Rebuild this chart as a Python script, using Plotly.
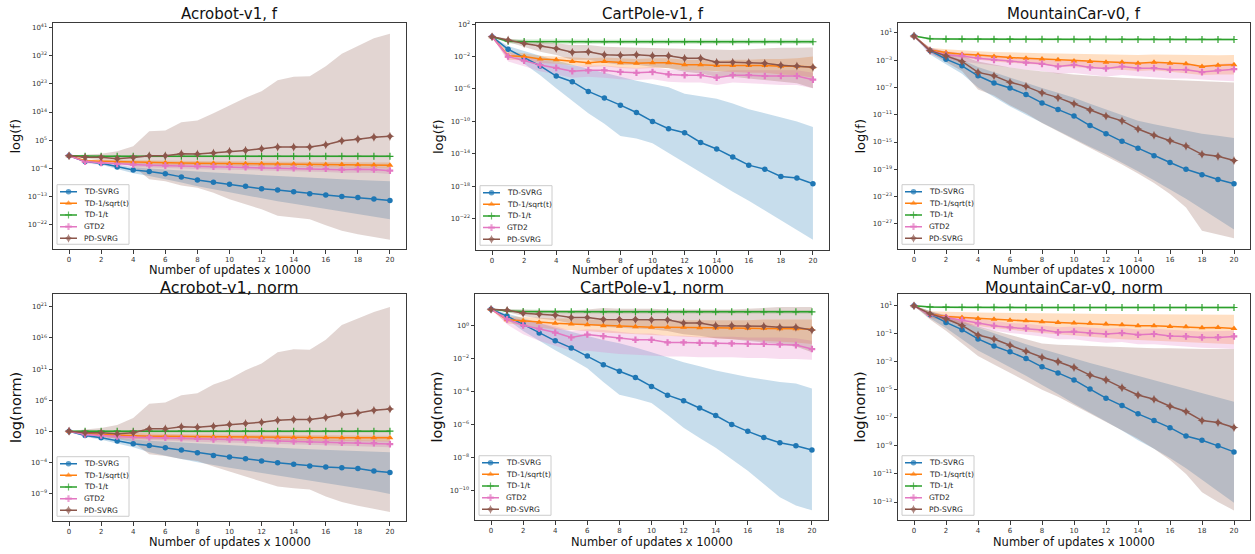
import plotly.graph_objects as go

FIG_W, FIG_H = 1255, 554
FONT = "DejaVu Sans"

# ---------------------------------------------------------------- data
# x axis: number of updates (x 10000)
STEPS = list(range(21))
X_TICKS = [0, 2, 4, 6, 8, 10, 12, 14, 16, 18, 20]

LABELS = ["TD-SVRG", "TD-1/sqrt(t)", "TD-1/t", "GTD2", "PD-SVRG"]

# All curves below are log10 values: mean, lower and upper edge of the band.

# Acrobot-v1, f
ACRO_F_TDSVRG = [0.0, -1.9, -2.4, -3.6, -4.6, -5.1, -5.8, -6.8, -7.8, -8.5, -9.2, -9.8, -10.6, -11.0, -11.6, -12.2, -12.6, -13.1, -13.4, -13.9, -14.4]
ACRO_F_TDSVRG_LO = [-0.05, -2.1, -2.9, -4.3, -5.6, -6.5, -7.5, -8.6, -9.8, -10.8, -11.8, -12.8, -13.8, -14.6, -15.4, -16.2, -17.0, -17.8, -18.6, -19.5, -20.4]
ACRO_F_TDSVRG_HI = [0.05, -1.7, -2.2, -3.0, -3.7, -4.1, -4.5, -4.8, -5.1, -5.4, -5.7, -6.0, -6.3, -6.6, -6.9, -7.2, -7.4, -7.6, -7.8, -8.0, -8.2]
ACRO_F_SQRT = [0.0, -1.6, -1.8, -1.95, -2.1, -2.2, -2.3, -2.35, -2.4, -2.45, -2.5, -2.55, -2.6, -2.65, -2.7, -2.75, -2.8, -2.85, -2.9, -3.0, -3.1]
ACRO_F_SQRT_LO = [-0.05, -2.0, -2.3, -2.5, -2.7, -2.8, -2.95, -3.0, -3.1, -3.15, -3.2, -3.3, -3.35, -3.4, -3.5, -3.55, -3.6, -3.7, -3.75, -3.85, -4.0]
ACRO_F_SQRT_HI = [0.05, -1.2, -1.3, -1.4, -1.5, -1.6, -1.65, -1.7, -1.75, -1.8, -1.8, -1.85, -1.9, -1.9, -1.95, -2.0, -2.0, -2.05, -2.1, -2.15, -2.2]
ACRO_F_INV = [0.0, -0.15, -0.2, -0.2, -0.2, -0.2, -0.2, -0.2, -0.2, -0.2, -0.2, -0.2, -0.2, -0.2, -0.2, -0.2, -0.2, -0.2, -0.2, -0.2, -0.2]
ACRO_F_INV_LO = [-0.05, -0.45, -0.5, -0.5, -0.5, -0.5, -0.5, -0.5, -0.5, -0.5, -0.5, -0.5, -0.5, -0.5, -0.5, -0.5, -0.5, -0.5, -0.5, -0.5, -0.5]
ACRO_F_INV_HI = [0.05, 0.15, 0.1, 0.1, 0.1, 0.1, 0.1, 0.1, 0.1, 0.1, 0.1, 0.1, 0.1, 0.1, 0.1, 0.1, 0.1, 0.1, 0.1, 0.1, 0.1]
ACRO_F_GTD2 = [0.0, -1.9, -2.3, -2.65, -2.86, -3.08, -3.18, -3.29, -3.4, -3.5, -3.6, -3.7, -3.8, -3.9, -4.0, -4.1, -4.2, -4.5, -4.35, -4.45, -4.8]
ACRO_F_GTD2_LO = [-0.05, -2.5, -2.9, -3.3, -3.6, -3.8, -4.0, -4.1, -4.2, -4.4, -4.5, -4.6, -4.7, -4.8, -5.0, -5.1, -5.2, -5.5, -5.4, -5.5, -5.9]
ACRO_F_GTD2_HI = [0.05, -1.4, -1.7, -2.0, -2.2, -2.4, -2.5, -2.6, -2.7, -2.8, -2.9, -3.0, -3.1, -3.2, -3.3, -3.4, -3.5, -3.7, -3.6, -3.7, -3.9]
ACRO_F_PDSVRG = [0.0, -0.5, -0.5, -0.95, -0.6, 0.0, 0.0, 0.64, 0.53, 0.85, 1.4, 1.7, 2.2, 2.75, 2.75, 2.75, 3.5, 4.8, 5.3, 5.95, 6.2]
ACRO_F_PDSVRG_LO = [-0.05, -0.8, -1.5, -2.3, -3.4, -7.6, -8.2, -9.6, -10.3, -11.9, -14.0, -15.6, -17.2, -19.3, -19.9, -20.4, -22.3, -24.1, -25.2, -26.0, -27.0]
ACRO_F_PDSVRG_HI = [0.05, 0.3, 0.6, 1.4, 3.0, 7.8, 8.1, 10.7, 11.3, 13.6, 16.1, 18.6, 20.7, 24.2, 25.3, 25.5, 28.7, 32.7, 35.2, 37.7, 39.1]

# CartPole-v1, f
CART_F_TDSVRG = [0.45, -1.1, -2.14, -3.16, -4.4, -5.1, -6.3, -7.1, -8.0, -8.9, -10.0, -10.9, -11.4, -12.6, -13.4, -14.4, -15.4, -15.9, -16.8, -17.0, -17.7]
CART_F_TDSVRG_LO = [0.4, -1.5, -2.9, -4.3, -5.9, -7.4, -9.0, -10.3, -11.8, -12.1, -12.7, -13.9, -15.1, -16.3, -17.6, -18.7, -19.8, -21.0, -22.1, -23.4, -24.6]
CART_F_TDSVRG_HI = [0.5, -0.7, -1.3, -1.9, -2.5, -3.0, -3.5, -4.0, -4.5, -5.0, -5.4, -5.8, -6.6, -6.9, -7.2, -7.8, -8.5, -9.0, -9.5, -10.0, -10.7]
CART_F_SQRT = [0.45, -1.9, -2.0, -2.3, -2.4, -2.6, -2.75, -2.6, -2.75, -2.84, -2.75, -2.75, -3.0, -3.0, -3.1, -3.1, -3.1, -3.1, -3.2, -3.2, -3.3]
CART_F_SQRT_LO = [0.4, -2.4, -2.5, -2.8, -2.9, -3.1, -3.3, -3.2, -3.4, -3.5, -3.4, -3.4, -3.7, -3.7, -3.8, -3.9, -4.0, -4.0, -4.2, -4.3, -4.6]
CART_F_SQRT_HI = [0.5, -1.4, -1.6, -1.9, -2.0, -2.1, -2.2, -2.1, -2.2, -2.3, -2.2, -2.2, -2.4, -2.4, -2.5, -2.4, -2.4, -2.3, -2.3, -2.2, -2.0]
CART_F_INV = [0.45, -0.1, -0.15, -0.17, -0.17, -0.17, -0.17, -0.17, -0.17, -0.17, -0.17, -0.17, -0.17, -0.17, -0.17, -0.17, -0.17, -0.17, -0.17, -0.17, -0.17]
CART_F_INV_LO = [0.4, -0.35, -0.4, -0.42, -0.42, -0.42, -0.42, -0.42, -0.42, -0.42, -0.42, -0.42, -0.42, -0.42, -0.42, -0.42, -0.42, -0.42, -0.42, -0.42, -0.42]
CART_F_INV_HI = [0.5, 0.15, 0.1, 0.08, 0.08, 0.08, 0.08, 0.08, 0.08, 0.08, 0.08, 0.08, 0.08, 0.08, 0.08, 0.08, 0.08, 0.08, 0.08, 0.08, 0.08]
CART_F_GTD2 = [0.45, -2.0, -2.5, -3.05, -3.4, -3.8, -3.7, -3.7, -3.9, -4.0, -3.9, -4.2, -4.3, -4.3, -4.6, -4.3, -4.3, -4.4, -4.4, -4.4, -4.85]
CART_F_GTD2_LO = [0.4, -2.6, -3.2, -3.8, -4.2, -4.6, -4.5, -4.6, -4.8, -4.9, -4.8, -5.1, -5.2, -5.2, -5.5, -5.2, -5.3, -5.4, -5.5, -5.5, -5.9]
CART_F_GTD2_HI = [0.5, -1.5, -1.9, -2.4, -2.8, -3.2, -3.1, -3.1, -3.3, -3.4, -3.3, -3.6, -3.7, -3.7, -3.9, -3.7, -3.7, -3.7, -3.7, -3.7, -4.0]
CART_F_PDSVRG = [0.45, 0.03, -0.38, -0.7, -1.0, -1.48, -1.4, -1.77, -1.85, -1.77, -1.9, -1.9, -2.2, -2.2, -2.7, -2.7, -2.75, -2.84, -3.08, -3.16, -3.33]
CART_F_PDSVRG_LO = [0.4, -0.17, -0.79, -1.4, -1.8, -2.4, -2.4, -2.75, -3.0, -3.0, -3.25, -3.45, -3.87, -4.1, -4.5, -4.5, -4.7, -4.9, -5.1, -5.3, -5.9]
CART_F_PDSVRG_HI = [0.5, 0.24, -0.05, -0.17, -0.38, -0.58, -0.58, -0.79, -0.85, -0.9, -1.0, -1.05, -1.1, -1.15, -1.23, -1.2, -1.1, -1.0, -0.9, -0.9, -0.87]

# MountainCar-v0, f
MCAR_F_TDSVRG = [0.52, -1.6, -2.87, -3.84, -5.3, -6.36, -7.1, -8.06, -9.27, -10.23, -11.2, -12.6, -13.8, -14.9, -15.9, -17.0, -18.0, -19.0, -19.8, -20.5, -21.1]
MCAR_F_TDSVRG_LO = [0.5, -2.2, -3.6, -5.0, -7.0, -8.4, -9.8, -11.0, -12.2, -13.4, -14.6, -15.7, -16.8, -18.0, -19.3, -20.6, -21.9, -23.3, -24.8, -26.3, -27.8]
MCAR_F_TDSVRG_HI = [0.55, -1.3, -2.2, -3.0, -4.0, -4.8, -5.5, -6.3, -7.1, -7.8, -8.5, -9.4, -10.2, -11.0, -11.9, -12.4, -12.9, -13.4, -13.8, -14.1, -14.4]
MCAR_F_SQRT = [0.52, -1.52, -1.9, -2.15, -2.24, -2.49, -2.63, -2.73, -2.83, -2.97, -3.12, -3.21, -3.31, -3.31, -3.46, -3.31, -3.46, -3.55, -3.94, -3.75, -3.7]
MCAR_F_SQRT_LO = [0.5, -1.9, -2.4, -2.7, -2.9, -3.2, -3.4, -3.5, -3.7, -3.9, -4.0, -4.2, -4.3, -4.4, -4.6, -4.5, -4.7, -4.9, -5.2, -5.1, -5.1]
MCAR_F_SQRT_HI = [0.55, -1.2, -1.4, -1.6, -1.7, -1.8, -1.9, -1.95, -2.0, -2.05, -2.1, -2.15, -2.2, -2.2, -2.25, -2.2, -2.25, -2.25, -2.3, -2.3, -2.25]
MCAR_F_INV = [0.52, 0.12, 0.08, 0.07, 0.07, 0.06, 0.06, 0.05, 0.05, 0.05, 0.04, 0.04, 0.04, 0.03, 0.03, 0.03, 0.02, 0.02, 0.02, 0.02, 0.01]
MCAR_F_INV_LO = [0.5, -0.03, -0.07, -0.08, -0.08, -0.09, -0.09, -0.1, -0.1, -0.1, -0.11, -0.11, -0.11, -0.12, -0.12, -0.12, -0.13, -0.13, -0.13, -0.13, -0.14]
MCAR_F_INV_HI = [0.55, 0.27, 0.23, 0.22, 0.22, 0.21, 0.21, 0.2, 0.2, 0.2, 0.19, 0.19, 0.19, 0.18, 0.18, 0.18, 0.17, 0.17, 0.17, 0.17, 0.16]
MCAR_F_GTD2 = [0.52, -1.6, -2.24, -2.39, -2.73, -2.97, -3.21, -3.36, -3.55, -3.94, -3.7, -4.08, -4.23, -3.94, -4.18, -4.18, -4.42, -4.42, -4.76, -4.52, -4.33]
MCAR_F_GTD2_LO = [0.5, -2.1, -2.9, -3.2, -3.6, -3.9, -4.2, -4.4, -4.6, -5.0, -4.9, -5.2, -5.4, -5.2, -5.4, -5.5, -5.7, -5.7, -5.9, -6.0, -6.1]
MCAR_F_GTD2_HI = [0.55, -1.2, -1.7, -1.85, -2.1, -2.3, -2.5, -2.6, -2.8, -3.1, -2.9, -3.2, -3.3, -3.1, -3.3, -3.3, -3.5, -3.5, -3.8, -3.6, -3.4]
MCAR_F_PDSVRG = [0.52, -1.6, -2.39, -3.2, -4.8, -5.3, -6.26, -6.85, -7.8, -8.5, -9.4, -10.3, -11.2, -11.9, -13.1, -14.0, -14.8, -15.6, -16.8, -17.1, -17.7]
MCAR_F_PDSVRG_LO = [0.5, -1.9, -3.3, -4.6, -7.3, -8.2, -9.6, -10.8, -12.2, -13.4, -14.7, -15.8, -17.0, -18.3, -19.6, -21.0, -22.6, -24.6, -28.0, -28.6, -29.1]
MCAR_F_PDSVRG_HI = [0.55, -1.2, -1.8, -2.4, -3.2, -3.7, -4.1, -4.4, -4.7, -4.9, -5.1, -5.3, -5.5, -5.6, -5.7, -5.8, -5.9, -6.0, -6.1, -6.2, -6.3]

# Acrobot-v1, norm
ACRO_N_TDSVRG = [1.0, 0.3, -0.07, -0.6, -1.03, -1.3, -1.67, -2.04, -2.47, -2.9, -3.16, -3.43, -3.8, -4.07, -4.34, -4.6, -4.77, -4.87, -5.03, -5.4, -5.67]
ACRO_N_TDSVRG_LO = [0.98, 0.1, -0.4, -1.0, -1.6, -2.4, -3.0, -3.5, -4.0, -4.5, -4.9, -5.3, -5.7, -6.1, -6.5, -6.9, -7.3, -7.7, -8.2, -8.6, -9.1]
ACRO_N_TDSVRG_HI = [1.02, 0.5, 0.2, -0.1, -0.35, -0.55, -0.7, -0.85, -1.0, -1.15, -1.3, -1.45, -1.6, -1.7, -1.8, -1.9, -2.0, -2.1, -2.2, -2.3, -2.4]
ACRO_N_SQRT = [1.0, 0.63, 0.47, 0.36, 0.3, 0.2, 0.18, 0.15, 0.12, 0.1, 0.08, 0.06, 0.04, 0.02, 0.0, -0.02, -0.03, -0.04, -0.05, -0.06, -0.07]
ACRO_N_SQRT_LO = [0.98, 0.2, 0.0, -0.12, -0.2, -0.3, -0.33, -0.36, -0.4, -0.42, -0.45, -0.47, -0.5, -0.52, -0.55, -0.57, -0.59, -0.6, -0.62, -0.64, -0.66]
ACRO_N_SQRT_HI = [1.02, 0.95, 0.8, 0.7, 0.65, 0.55, 0.53, 0.5, 0.47, 0.45, 0.43, 0.41, 0.39, 0.37, 0.35, 0.33, 0.32, 0.31, 0.3, 0.29, 0.28]
ACRO_N_INV = [1.0, 1.0, 1.0, 1.0, 1.0, 1.0, 1.0, 1.0, 1.0, 1.0, 1.0, 1.0, 1.0, 1.0, 1.0, 1.0, 1.0, 1.0, 1.0, 1.0, 1.0]
ACRO_N_INV_LO = [0.98, 0.8, 0.8, 0.8, 0.8, 0.8, 0.8, 0.8, 0.8, 0.8, 0.8, 0.8, 0.8, 0.8, 0.8, 0.8, 0.8, 0.8, 0.8, 0.8, 0.8]
ACRO_N_INV_HI = [1.02, 1.2, 1.2, 1.2, 1.2, 1.2, 1.2, 1.2, 1.2, 1.2, 1.2, 1.2, 1.2, 1.2, 1.2, 1.2, 1.2, 1.2, 1.2, 1.2, 1.2]
ACRO_N_GTD2 = [1.0, 0.47, 0.3, 0.15, 0.04, -0.01, -0.07, -0.12, -0.23, -0.33, -0.33, -0.44, -0.49, -0.6, -0.66, -0.71, -0.76, -0.87, -0.87, -0.92, -1.08]
ACRO_N_GTD2_LO = [0.98, 0.1, -0.1, -0.25, -0.4, -0.45, -0.5, -0.55, -0.7, -0.8, -0.8, -0.9, -1.0, -1.1, -1.15, -1.2, -1.25, -1.35, -1.4, -1.45, -1.6]
ACRO_N_GTD2_HI = [1.02, 0.8, 0.65, 0.5, 0.4, 0.35, 0.3, 0.25, 0.15, 0.05, 0.05, -0.05, -0.1, -0.2, -0.25, -0.3, -0.35, -0.45, -0.45, -0.5, -0.6]
ACRO_N_PDSVRG = [1.0, 0.73, 0.73, 0.57, 0.73, 1.37, 1.37, 1.7, 1.64, 1.8, 2.07, 2.23, 2.44, 2.76, 2.87, 2.87, 3.19, 3.67, 3.94, 4.36, 4.58]
ACRO_N_PDSVRG_LO = [0.98, 0.7, 0.25, -0.3, -0.8, -2.7, -3.0, -3.5, -3.8, -4.7, -5.5, -6.2, -7.0, -7.9, -8.2, -8.4, -9.5, -10.4, -11.0, -11.5, -12.0]
ACRO_N_PDSVRG_HI = [1.02, 1.3, 1.5, 2.0, 3.1, 5.4, 5.6, 6.8, 7.1, 8.5, 9.4, 10.8, 11.9, 13.7, 14.2, 14.1, 15.7, 18.1, 19.2, 20.2, 21.0]

# CartPole-v1, norm
CART_N_TDSVRG = [1.02, 0.6, 0.1, -0.42, -0.9, -1.33, -1.83, -2.35, -2.75, -3.13, -3.67, -4.2, -4.54, -4.98, -5.44, -5.98, -6.4, -6.77, -7.09, -7.27, -7.53]
CART_N_TDSVRG_LO = [1.0, 0.4, -0.3, -0.9, -1.47, -2.0, -2.57, -3.4, -4.18, -4.4, -4.68, -5.4, -6.18, -6.8, -7.39, -8.1, -8.8, -9.6, -10.4, -10.9, -11.2]
CART_N_TDSVRG_HI = [1.04, 0.75, 0.45, 0.2, -0.1, -0.35, -0.6, -0.85, -1.05, -1.3, -1.6, -1.9, -2.2, -2.45, -2.7, -2.9, -3.1, -3.25, -3.4, -3.5, -3.8]
CART_N_SQRT = [1.02, 0.38, 0.32, 0.22, 0.16, 0.12, 0.08, 0.02, -0.02, -0.04, -0.08, -0.08, -0.08, -0.1, -0.12, -0.12, -0.14, -0.14, -0.16, -0.16, -0.2]
CART_N_SQRT_LO = [1.0, 0.15, 0.05, -0.1, -0.2, -0.25, -0.3, -0.4, -0.45, -0.5, -0.55, -0.6, -0.65, -0.7, -0.75, -0.8, -0.85, -0.9, -0.95, -1.0, -1.1]
CART_N_SQRT_HI = [1.04, 0.6, 0.55, 0.5, 0.45, 0.45, 0.4, 0.4, 0.4, 0.4, 0.35, 0.35, 0.35, 0.35, 0.35, 0.35, 0.35, 0.4, 0.4, 0.4, 0.4]
CART_N_INV = [1.02, 0.92, 0.88, 0.87, 0.86, 0.86, 0.86, 0.86, 0.86, 0.86, 0.86, 0.86, 0.86, 0.86, 0.86, 0.86, 0.86, 0.86, 0.86, 0.86, 0.86]
CART_N_INV_LO = [1.0, 0.82, 0.78, 0.77, 0.76, 0.76, 0.76, 0.76, 0.76, 0.76, 0.76, 0.76, 0.76, 0.76, 0.76, 0.76, 0.76, 0.76, 0.76, 0.76, 0.76]
CART_N_INV_HI = [1.04, 1.02, 0.98, 0.97, 0.96, 0.96, 0.96, 0.96, 0.96, 0.96, 0.96, 0.96, 0.96, 0.96, 0.96, 0.96, 0.96, 0.96, 0.96, 0.96, 0.96]
CART_N_GTD2 = [1.02, 0.4, 0.04, -0.16, -0.4, -0.7, -0.52, -0.62, -0.74, -0.84, -0.84, -1.0, -1.0, -1.02, -1.06, -1.06, -1.08, -1.08, -1.12, -1.16, -1.4]
CART_N_GTD2_LO = [1.0, 0.1, -0.5, -0.9, -1.2, -1.5, -1.5, -1.6, -1.7, -1.75, -1.8, -1.85, -1.85, -1.9, -1.9, -1.9, -1.95, -1.95, -2.0, -2.0, -2.05]
CART_N_GTD2_HI = [1.04, 0.6, 0.35, 0.2, 0.0, -0.3, -0.2, -0.25, -0.35, -0.45, -0.45, -0.6, -0.6, -0.65, -0.65, -0.65, -0.7, -0.7, -0.7, -0.75, -0.9]
CART_N_PDSVRG = [1.02, 0.96, 0.78, 0.72, 0.66, 0.52, 0.52, 0.4, 0.4, 0.4, 0.38, 0.38, 0.18, 0.18, 0.02, 0.02, -0.02, -0.02, -0.08, -0.08, -0.25]
CART_N_PDSVRG_LO = [1.0, 0.85, 0.6, 0.45, 0.35, 0.15, 0.1, -0.05, -0.1, -0.15, -0.2, -0.3, -0.5, -0.6, -0.75, -0.8, -0.9, -1.0, -1.1, -1.25, -1.6]
CART_N_PDSVRG_HI = [1.04, 1.0, 0.95, 0.95, 0.95, 0.95, 1.0, 1.1, 1.05, 1.05, 1.05, 1.0, 1.0, 1.0, 1.0, 1.0, 1.05, 1.1, 1.15, 1.15, 1.15]

# MountainCar-v0, norm
MCAR_N_TDSVRG = [0.98, 0.36, -0.2, -0.72, -1.38, -1.88, -2.3, -2.78, -3.37, -3.8, -4.3, -4.95, -5.6, -6.13, -6.72, -7.2, -7.7, -8.3, -8.6, -9.0, -9.43]
MCAR_N_TDSVRG_LO = [0.96, 0.1, -0.6, -1.4, -2.2, -2.8, -3.4, -4.0, -4.67, -5.3, -6.0, -6.6, -7.26, -7.9, -8.6, -9.2, -9.86, -10.6, -11.4, -12.2, -13.05]
MCAR_N_TDSVRG_HI = [1.0, 0.6, 0.2, -0.2, -0.6, -1.0, -1.4, -1.75, -2.1, -2.45, -2.8, -3.1, -3.4, -3.7, -4.0, -4.3, -4.6, -4.9, -5.2, -5.5, -5.85]
MCAR_N_SQRT = [0.98, 0.39, 0.22, 0.15, 0.08, 0.03, -0.04, -0.09, -0.16, -0.2, -0.25, -0.27, -0.32, -0.37, -0.44, -0.44, -0.49, -0.52, -0.58, -0.56, -0.63]
MCAR_N_SQRT_LO = [0.96, 0.15, -0.1, -0.3, -0.45, -0.6, -0.75, -0.85, -0.95, -1.05, -1.15, -1.25, -1.3, -1.4, -1.45, -1.5, -1.55, -1.6, -1.65, -1.7, -1.75]
MCAR_N_SQRT_HI = [1.0, 0.6, 0.55, 0.5, 0.5, 0.48, 0.46, 0.45, 0.44, 0.43, 0.42, 0.41, 0.4, 0.39, 0.38, 0.37, 0.36, 0.35, 0.34, 0.34, 0.34]
MCAR_N_INV = [0.98, 0.9, 0.88, 0.87, 0.87, 0.87, 0.87, 0.86, 0.86, 0.86, 0.86, 0.86, 0.86, 0.86, 0.86, 0.86, 0.86, 0.86, 0.86, 0.86, 0.86]
MCAR_N_INV_LO = [0.96, 0.83, 0.81, 0.8, 0.8, 0.8, 0.8, 0.79, 0.79, 0.79, 0.79, 0.79, 0.79, 0.79, 0.79, 0.79, 0.79, 0.79, 0.79, 0.79, 0.79]
MCAR_N_INV_HI = [1.0, 0.97, 0.95, 0.94, 0.94, 0.94, 0.94, 0.93, 0.93, 0.93, 0.93, 0.93, 0.93, 0.93, 0.93, 0.93, 0.93, 0.93, 0.93, 0.93, 0.93]
MCAR_N_GTD2 = [0.98, 0.34, 0.15, -0.04, -0.27, -0.44, -0.56, -0.63, -0.75, -0.91, -0.86, -0.96, -1.03, -0.96, -1.08, -1.03, -1.17, -1.2, -1.27, -1.27, -1.2]
MCAR_N_GTD2_LO = [0.96, 0.15, -0.1, -0.35, -0.6, -0.8, -0.95, -1.05, -1.2, -1.4, -1.4, -1.55, -1.65, -1.6, -1.75, -1.75, -1.85, -1.9, -2.0, -2.05, -2.1]
MCAR_N_GTD2_HI = [1.0, 0.5, 0.35, 0.2, 0.0, -0.15, -0.25, -0.3, -0.4, -0.55, -0.5, -0.6, -0.65, -0.6, -0.7, -0.65, -0.75, -0.8, -0.85, -0.85, -0.8]
MCAR_N_PDSVRG = [0.98, 0.41, 0.06, -0.42, -1.1, -1.38, -1.83, -2.26, -2.68, -3.0, -3.41, -3.96, -4.3, -4.85, -5.37, -5.68, -6.18, -6.55, -7.2, -7.33, -7.69]
MCAR_N_PDSVRG_LO = [0.96, 0.0, -0.8, -1.7, -2.6, -3.2, -3.8, -4.4, -5.0, -5.5, -6.1, -6.7, -7.3, -7.9, -8.5, -9.2, -10.0, -11.0, -12.3, -13.0, -13.6]
MCAR_N_PDSVRG_HI = [1.0, 0.6, 0.3, -0.1, -0.5, -0.8, -1.1, -1.4, -1.7, -1.8, -1.85, -1.9, -1.95, -2.0, -2.0, -2.05, -2.05, -2.1, -2.1, -2.1, -2.1]

# y tick exponents for each panel
ACRO_F_YTICKS = [41, 32, 23, 14, 5, -4, -13, -22]
CART_F_YTICKS = [2, -2, -6, -10, -14, -18, -22]
MCAR_F_YTICKS = [1, -3, -7, -11, -15, -19, -23, -27]
ACRO_N_YTICKS = [21, 16, 11, 6, 1, -4, -9]
CART_N_YTICKS = [0, -2, -4, -6, -8, -10]
MCAR_N_YTICKS = [1, -1, -3, -5, -7, -9, -11, -13]

# ---------------------------------------------------------------- styling
COLORS = ["#1f77b4", "#ff7f0e", "#2ca02c", "#e377c2", "#8c564b"]
RGB = [(31, 119, 180), (255, 127, 14), (44, 160, 44), (227, 119, 194), (140, 86, 75)]
SYMBOLS = ["circle", "triangle-up", "cross-thin-open", "cross", "star-diamond"]
SIZES = [5.5, 6, 5, 5.5, 6.5]
BAND_ALPHA = 0.25

PANELS = [
    dict(title="Acrobot-v1, f", ylabel="log(f)", box=(53, 19, 406, 247), yrange=(-30.0, 42.6),
         yticks=ACRO_F_YTICKS, tsize=15, lsize=13,
         series=[(ACRO_F_TDSVRG, ACRO_F_TDSVRG_LO, ACRO_F_TDSVRG_HI),
                 (ACRO_F_SQRT, ACRO_F_SQRT_LO, ACRO_F_SQRT_HI),
                 (ACRO_F_INV, ACRO_F_INV_LO, ACRO_F_INV_HI),
                 (ACRO_F_GTD2, ACRO_F_GTD2_LO, ACRO_F_GTD2_HI),
                 (ACRO_F_PDSVRG, ACRO_F_PDSVRG_LO, ACRO_F_PDSVRG_HI)]),
    dict(title="CartPole-v1, f", ylabel="log(f)", box=(476, 19, 829, 248), yrange=(-25.9, 2.16),
         yticks=CART_F_YTICKS, tsize=15, lsize=13,
         series=[(CART_F_TDSVRG, CART_F_TDSVRG_LO, CART_F_TDSVRG_HI),
                 (CART_F_SQRT, CART_F_SQRT_LO, CART_F_SQRT_HI),
                 (CART_F_INV, CART_F_INV_LO, CART_F_INV_HI),
                 (CART_F_GTD2, CART_F_GTD2_LO, CART_F_GTD2_HI),
                 (CART_F_PDSVRG, CART_F_PDSVRG_LO, CART_F_PDSVRG_HI)]),
    dict(title="MountainCar-v0, f", ylabel="log(f)", box=(898, 19, 1250, 247), yrange=(-30.7, 2.45),
         yticks=MCAR_F_YTICKS, tsize=15, lsize=13,
         series=[(MCAR_F_TDSVRG, MCAR_F_TDSVRG_LO, MCAR_F_TDSVRG_HI),
                 (MCAR_F_SQRT, MCAR_F_SQRT_LO, MCAR_F_SQRT_HI),
                 (MCAR_F_INV, MCAR_F_INV_LO, MCAR_F_INV_HI),
                 (MCAR_F_GTD2, MCAR_F_GTD2_LO, MCAR_F_GTD2_HI),
                 (MCAR_F_PDSVRG, MCAR_F_PDSVRG_LO, MCAR_F_PDSVRG_HI)]),
    dict(title="Acrobot-v1, norm", ylabel="log(norm)", box=(53, 292, 406, 521), yrange=(-13.5, 23.1),
         yticks=ACRO_N_YTICKS, tsize=16, lsize=14.5,
         series=[(ACRO_N_TDSVRG, ACRO_N_TDSVRG_LO, ACRO_N_TDSVRG_HI),
                 (ACRO_N_SQRT, ACRO_N_SQRT_LO, ACRO_N_SQRT_HI),
                 (ACRO_N_INV, ACRO_N_INV_LO, ACRO_N_INV_HI),
                 (ACRO_N_GTD2, ACRO_N_GTD2_LO, ACRO_N_GTD2_HI),
                 (ACRO_N_PDSVRG, ACRO_N_PDSVRG_LO, ACRO_N_PDSVRG_HI)]),
    dict(title="CartPole-v1, norm", ylabel="log(norm)", box=(475, 292, 828, 520), yrange=(-11.8, 1.95),
         yticks=CART_N_YTICKS, tsize=16, lsize=14.5,
         series=[(CART_N_TDSVRG, CART_N_TDSVRG_LO, CART_N_TDSVRG_HI),
                 (CART_N_SQRT, CART_N_SQRT_LO, CART_N_SQRT_HI),
                 (CART_N_INV, CART_N_INV_LO, CART_N_INV_HI),
                 (CART_N_GTD2, CART_N_GTD2_LO, CART_N_GTD2_HI),
                 (CART_N_PDSVRG, CART_N_PDSVRG_LO, CART_N_PDSVRG_HI)]),
    dict(title="MountainCar-v0, norm", ylabel="log(norm)", box=(898, 292, 1250, 520), yrange=(-14.3, 1.83),
         yticks=MCAR_N_YTICKS, tsize=16, lsize=14.5,
         series=[(MCAR_N_TDSVRG, MCAR_N_TDSVRG_LO, MCAR_N_TDSVRG_HI),
                 (MCAR_N_SQRT, MCAR_N_SQRT_LO, MCAR_N_SQRT_HI),
                 (MCAR_N_INV, MCAR_N_INV_LO, MCAR_N_INV_HI),
                 (MCAR_N_GTD2, MCAR_N_GTD2_LO, MCAR_N_GTD2_HI),
                 (MCAR_N_PDSVRG, MCAR_N_PDSVRG_LO, MCAR_N_PDSVRG_HI)]),
]

for p in PANELS:
    for trio in p["series"]:
        for arr in trio:
            if len(arr) != len(STEPS):
                raise ValueError(f"{p['title']}: expected {len(STEPS)} values, got {len(arr)}")


def pow10(exps):
    return [10.0 ** e for e in exps]


def px_x(px):
    return px / FIG_W


def px_y(py):
    return 1.0 - py / FIG_H


def sup_label(e):
    return "10<sup>" + str(e).replace("-", "\u2212") + "</sup>"


def ax_names(k):
    return ("x" if k == 1 else f"x{k}", "y" if k == 1 else f"y{k}")


def marker_style(j, size):
    mk = dict(symbol=SYMBOLS[j], size=size, color=COLORS[j])
    if SYMBOLS[j].endswith("open"):
        mk["line"] = dict(color=COLORS[j], width=1.2)
    else:
        mk["line"] = dict(width=0)
    return mk


fig = go.Figure()
layout = dict(
    width=FIG_W, height=FIG_H, autosize=False,
    margin=dict(l=0, r=0, t=0, b=0),
    paper_bgcolor="white", plot_bgcolor="rgba(0,0,0,0)",
    font=dict(family=FONT, color="#222"),
    showlegend=False,
    annotations=[],
)

AXIS_COMMON = dict(showline=True, mirror=True, linecolor="#3a3a3a", linewidth=1,
                   ticks="outside", ticklen=3.5, tickwidth=0.8, tickcolor="#3a3a3a",
                   showgrid=False, zeroline=False, fixedrange=True,
                   tickfont=dict(family=FONT, size=7, color="#333"))

LEG_W, LEG_H = 72, 60

for k, p in enumerate(PANELS, start=1):
    xa, ya = ax_names(k)
    L, T, R, B = p["box"]
    xkey = "xaxis" if k == 1 else f"xaxis{k}"
    ykey = "yaxis" if k == 1 else f"yaxis{k}"
    layout[xkey] = dict(AXIS_COMMON, domain=[px_x(L), px_x(R)], range=[-1, 21],
                        tickmode="array", tickvals=X_TICKS, anchor=ya)
    layout[ykey] = dict(AXIS_COMMON, domain=[px_y(B), px_y(T)], type="log",
                        range=list(p["yrange"]), tickmode="array",
                        tickvals=[10.0 ** e for e in p["yticks"]],
                        ticktext=[sup_label(e) for e in p["yticks"]], anchor=xa)

    # shaded spread of every method first, curves on top
    for j, (mean, lo, hi) in enumerate(p["series"]):
        r, g, b = RGB[j]
        fig.add_trace(go.Scatter(x=STEPS, y=pow10(lo), mode="lines", line=dict(width=0, color=COLORS[j]),
                                 xaxis=xa, yaxis=ya, hoverinfo="skip", showlegend=False))
        fig.add_trace(go.Scatter(x=STEPS, y=pow10(hi), mode="lines", line=dict(width=0, color=COLORS[j]),
                                 fill="tonexty", fillcolor=f"rgba({r},{g},{b},{BAND_ALPHA})",
                                 xaxis=xa, yaxis=ya, hoverinfo="skip", showlegend=False))
    for j, (mean, lo, hi) in enumerate(p["series"]):
        fig.add_trace(go.Scatter(x=STEPS, y=pow10(mean), mode="lines+markers", name=LABELS[j],
                                 line=dict(color=COLORS[j], width=1.5), marker=marker_style(j, SIZES[j]),
                                 xaxis=xa, yaxis=ya, showlegend=False))

    cx = px_x((L + R) / 2)
    top_row = T < 100
    title_y = 10 if top_row else 285.5
    xlabel_y = 268 if top_row else 541.5
    layout["annotations"].append(dict(text=p["title"], x=cx, y=px_y(title_y), xref="paper", yref="paper",
                                      xanchor="center", yanchor="middle", showarrow=False,
                                      font=dict(family=FONT, size=p["tsize"], color="#111")))
    layout["annotations"].append(dict(text="Number of updates x 10000", x=cx, y=px_y(xlabel_y),
                                      xref="paper", yref="paper", xanchor="center", yanchor="middle",
                                      showarrow=False, font=dict(family=FONT, size=11.5, color="#111")))
    layout["annotations"].append(dict(text=p["ylabel"], x=px_x(L - 37.5), y=px_y((T + B) / 2),
                                      xref="paper", yref="paper", xanchor="center", yanchor="middle",
                                      textangle=-90, showarrow=False,
                                      font=dict(family=FONT, size=p["lsize"], color="#111")))

    # legend box in the lower-left corner, drawn on its own small axes
    lk = k + 6
    lxa, lya = f"x{lk}", f"y{lk}"
    bl, bb = L + 4, B - 5
    layout[f"xaxis{lk}"] = dict(domain=[px_x(bl - 2), px_x(bl + LEG_W + 2)], range=[-2, LEG_W + 2],
                                visible=False, fixedrange=True, anchor=lya)
    layout[f"yaxis{lk}"] = dict(domain=[px_y(bb + 2), px_y(bb - LEG_H - 2)], range=[-2, LEG_H + 2],
                                visible=False, fixedrange=True, anchor=lxa)
    fig.add_trace(go.Scatter(x=[0, LEG_W, LEG_W, 0, 0], y=[0, 0, LEG_H, LEG_H, 0], mode="lines",
                             fill="toself", fillcolor="rgba(255,255,255,0.8)",
                             line=dict(color="#cccccc", width=1), xaxis=lxa, yaxis=lya,
                             hoverinfo="skip", showlegend=False))
    for j in range(5):
        yy = LEG_H - (7 + 11.75 * j)
        fig.add_trace(go.Scatter(x=[3, 11.5, 20], y=[yy, yy, yy], mode="lines+markers",
                                 line=dict(color=COLORS[j], width=1.5),
                                 marker=marker_style(j, [0, SIZES[j], 0]),
                                 xaxis=lxa, yaxis=lya, hoverinfo="skip", showlegend=False))
        layout["annotations"].append(dict(text=LABELS[j], x=25, y=yy, xref=lxa, yref=lya,
                                          xanchor="left", yanchor="middle", showarrow=False,
                                          font=dict(family=FONT, size=7.5, color="#222")))

fig.update_layout(**layout)
fig.write_html("out.html")
